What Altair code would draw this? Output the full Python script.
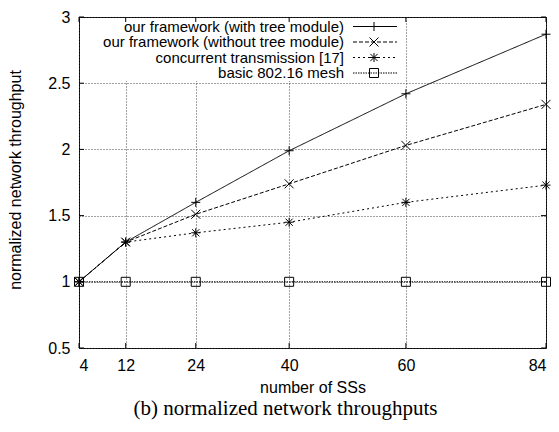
import altair as alt
import pandas as pd

# ---- data ----
x_ss = [4, 12, 24, 40, 60, 84]
with_tree = [1.0, 1.3, 1.60, 1.99, 2.42, 2.87]
without_tree = [1.0, 1.3, 1.51, 1.74, 2.03, 2.34]
concurrent = [1.0, 1.3, 1.37, 1.45, 1.60, 1.73]
basic = [1.0, 1.0, 1.0, 1.0, 1.0, 1.0]
series_names = [
    "our framework (with tree module)",
    "our framework (without tree module)",
    "concurrent transmission [17]",
    "basic 802.16 mesh",
]
y_ticks = [0.5, 1, 1.5, 2, 2.5, 3]

rows = []
for name, vals in zip(series_names, [with_tree, without_tree, concurrent, basic]):
    for xv, yv in zip(x_ss, vals):
        rows.append({"x": xv, "y": yv, "series": name})
df = pd.DataFrame(rows)

# ---- styling ----
TOP = 9
W, H = 467, 340 - TOP
PLUS = "M-1,0L1,0M0,-1L0,1"
CROSS = "M-1,-1L1,1M-1,1L1,-1"
STAR = "M-1,0L1,0M0,-1L0,1M-0.8,-0.8L0.8,0.8M-0.8,0.8L0.8,-0.8"
shapes = [PLUS, CROSS, STAR, "square"]
dashes = [[1, 0], [4, 2], [2, 3], [1.5, 1]]
MSIZE = 81
FONT = "Liberation Sans"

x_scale = alt.Scale(domain=[4, 84], nice=False, zero=False)
y_scale = alt.Scale(domain=[0.5, 3], nice=False, zero=False)

x_axis = alt.Axis(values=x_ss, title="number of SSs", grid=True, labelPadding=9,
                  titleX=W / 2, titleY=39, titleBaseline="middle", titleAlign="center")
y_axis = alt.Axis(values=y_ticks, title="normalized network throughput", grid=True,
                  format="~g", labelPadding=9, titleX=-64, titleY=H / 2 - 3, titleAngle=270,
                  titleBaseline="middle", titleAlign="center")

base = alt.Chart(df)

lines = base.mark_line(color="black", strokeWidth=1).encode(
    x=alt.X("x:Q", scale=x_scale, axis=x_axis),
    y=alt.Y("y:Q", scale=y_scale, axis=y_axis),
    strokeDash=alt.StrokeDash("series:N", scale=alt.Scale(domain=series_names, range=dashes), legend=None),
    detail="series:N",
)

points = base.mark_point(color="black", filled=False, strokeWidth=1, size=MSIZE, opacity=1).encode(
    x=alt.X("x:Q", scale=x_scale),
    y=alt.Y("y:Q", scale=y_scale),
    shape=alt.Shape("series:N", scale=alt.Scale(domain=series_names, range=shapes), legend=None),
)

# white area behind the key (hides grid there, like gnuplot)
key_bg = alt.Chart(pd.DataFrame({"k": [0]})).mark_rect(fill="white", stroke=None).encode(
    x=alt.value(5), x2=alt.value(323), y=alt.value(1), y2=alt.value(64)
)

# inward tick marks on all four sides
ydf = pd.DataFrame({"y": y_ticks})
xdf = pd.DataFrame({"x": x_ss})
tick_kw = dict(color="black", thickness=1, size=5, opacity=1)
ticks_left = alt.Chart(ydf).mark_tick(orient="horizontal", **tick_kw).encode(
    y=alt.Y("y:Q", scale=y_scale), x=alt.value(2.5))
ticks_right = alt.Chart(ydf).mark_tick(orient="horizontal", **tick_kw).encode(
    y=alt.Y("y:Q", scale=y_scale), x=alt.value(W - 2.5))
ticks_bottom = alt.Chart(xdf).mark_tick(orient="vertical", **tick_kw).encode(
    x=alt.X("x:Q", scale=x_scale), y=alt.value(H - 2.5))
ticks_top = alt.Chart(xdf).mark_tick(orient="vertical", **tick_kw).encode(
    x=alt.X("x:Q", scale=x_scale), y=alt.value(2.5))

# gnuplot-style key: label right-aligned, sample line with marker on the right
key_layers = []
for i, name in enumerate(series_names):
    ypx = 9.5 + i * 15.5
    kd = pd.DataFrame({"series": [name]})
    key_layers.append(
        alt.Chart(kd).mark_text(align="right", baseline="middle", font=FONT, fontSize=15, color="black")
        .encode(x=alt.value(265), y=alt.value(ypx), text="series:N"))
    key_layers.append(
        alt.Chart(kd).mark_rule(color="black", strokeWidth=1, strokeDash=dashes[i])
        .encode(x=alt.value(274), x2=alt.value(318), y=alt.value(ypx)))
    key_layers.append(
        alt.Chart(kd).mark_point(shape=shapes[i], size=MSIZE, filled=False, color="black",
                                 strokeWidth=1, opacity=1)
        .encode(x=alt.value(295), y=alt.value(ypx)))

chart = alt.layer(
    key_bg, lines, points, ticks_left, ticks_right, ticks_bottom, ticks_top, *key_layers
).properties(
    width=W,
    height=H,
    padding={"left": 71, "top": TOP, "right": 5, "bottom": 76},
    autosize=alt.AutoSizeParams(type="none"),
    title=alt.TitleParams(text="(b) normalized network throughputs", orient="bottom",
                          anchor="middle", dx=-27, offset=3),
).configure_view(
    stroke="black", strokeWidth=1
).configure_axis(
    labelFont=FONT, labelFontSize=16, labelColor="black",
    titleFont=FONT, titleFontSize=16, titleFontWeight="normal", titleColor="black",
    domain=False, ticks=False,
    gridColor="#444444", gridDash=[1, 2], gridWidth=1, gridOpacity=1,
).configure_title(
    font="Liberation Serif", fontSize=21, fontWeight="normal", color="black"
)

chart.save("out.html", embed_options={"renderer": "svg", "actions": False})
